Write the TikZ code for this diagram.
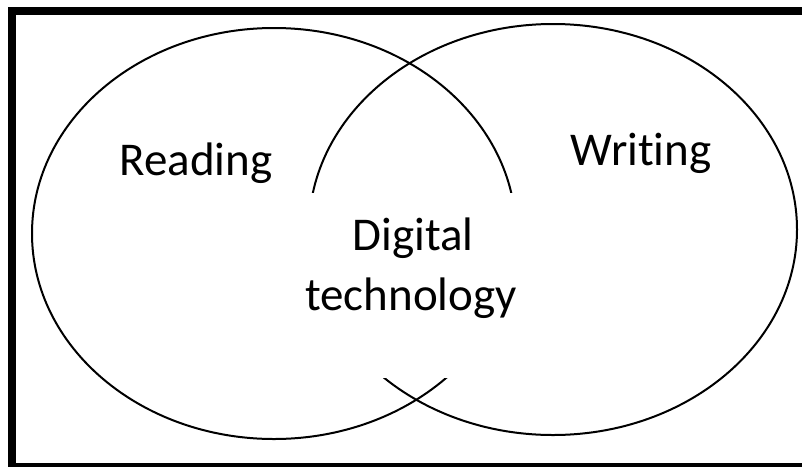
\documentclass[tikz,border=0pt]{standalone}
\usepackage{fontspec}
\setmainfont{Carlito}[Ligatures=NoCommon]

\begin{document}
\begin{tikzpicture}[x=1pt,y=-1pt]
    \useasboundingbox (0,0) rectangle (802,466);
    \begin{scope}[font=\fontsize{47}{56}\selectfont]

        \draw [line width=8pt] (12,11) rectangle (810,467);

        \draw [line width=2pt] (274,233.5) ellipse [x radius=242pt, y radius=205.5pt];
        \draw [line width=2pt] (553,229.5) ellipse [x radius=244pt, y radius=205.5pt];

        \node [fill=white,inner sep=0pt,minimum width=250pt,minimum height=185pt] (overlap) at (412,285.5) {};

        \node [anchor=base] (reading) at (196,175) {Reading};
        \node [anchor=base] (writing) at (641,165) {Writing};
        \node [anchor=base] (digital) at (413,250) {Digital};
        \node [anchor=base] (technology) at (411,310) {technology};

    \end{scope}
\end{tikzpicture}
\end{document}
